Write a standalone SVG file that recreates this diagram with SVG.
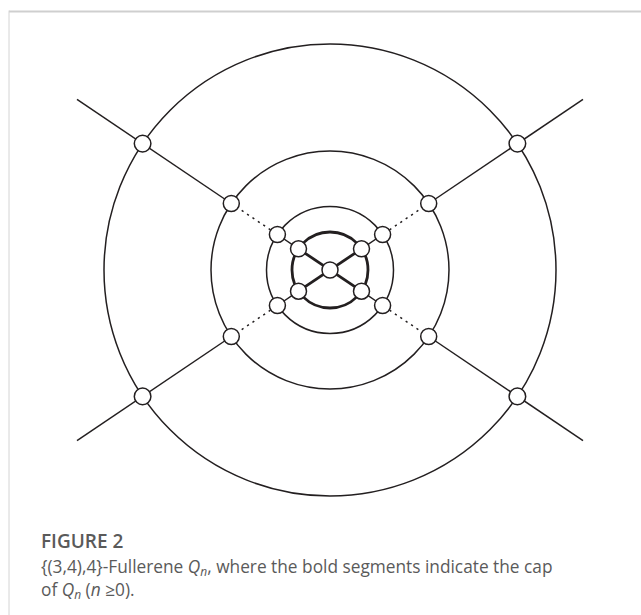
<svg xmlns="http://www.w3.org/2000/svg" width="641" height="615" viewBox="0 0 641 615">
<style>
.ln{stroke:#231f20;stroke-width:1.5;fill:none}
.bold{stroke:#231f20;stroke-width:2.8;fill:none}
.dot{stroke:#231f20;stroke-width:1.5;fill:none;stroke-dasharray:2.2 4.3}
.nd{fill:#fff;stroke:#231f20;stroke-width:1.5}
.cap{font-family:"Open Sans","Liberation Sans",sans-serif;fill:#5a5a5a}
</style>
<rect width="641" height="615" fill="#fff"/>
<g id="frame">
<line x1="9" y1="11.5" x2="641" y2="11.5" stroke="#cfcfcf" stroke-width="2"/>
<line x1="9" y1="10.5" x2="9" y2="615" stroke="#d4d4d4" stroke-width="1"/>
</g>
<g id="connectors">
<circle class="ln" cx="330" cy="270" r="226"/>
<circle class="ln" cx="330" cy="270" r="119"/>
<circle class="ln" cx="330" cy="270" r="63.5"/>
<circle class="bold" cx="330" cy="270" r="38"/>
<line class="bold" x1="298.5" y1="248.8" x2="361.5" y2="291.2"/>
<line class="bold" x1="361.5" y1="248.8" x2="298.5" y2="291.2"/>
<line class="ln" x1="298.5" y1="248.8" x2="277.4" y2="234.5"/>
<line class="ln" x1="361.5" y1="248.8" x2="382.6" y2="234.5"/>
<line class="ln" x1="298.5" y1="291.2" x2="277.4" y2="305.5"/>
<line class="ln" x1="361.5" y1="291.2" x2="382.6" y2="305.5"/>
<line class="dot" x1="270.5" y1="229.8" x2="238" y2="208"/>
<line class="dot" x1="389.5" y1="229.8" x2="422" y2="208"/>
<line class="dot" x1="270.5" y1="310.2" x2="238" y2="332"/>
<line class="dot" x1="389.5" y1="310.2" x2="422" y2="332"/>
<line class="ln" x1="231.3" y1="203.5" x2="77" y2="99.4"/>
<line class="ln" x1="428.7" y1="203.5" x2="583" y2="99.4"/>
<line class="ln" x1="231.3" y1="336.5" x2="77" y2="440.6"/>
<line class="ln" x1="428.7" y1="336.5" x2="583" y2="440.6"/>
</g>
<g id="n0"><circle class="nd" cx="330" cy="270" r="8"/></g>
<g id="n1"><circle class="nd" cx="298.5" cy="248.8" r="8"/></g>
<g id="n2"><circle class="nd" cx="361.5" cy="248.8" r="8"/></g>
<g id="n3"><circle class="nd" cx="298.5" cy="291.2" r="8"/></g>
<g id="n4"><circle class="nd" cx="361.5" cy="291.2" r="8"/></g>
<g id="n5"><circle class="nd" cx="277.4" cy="234.5" r="8"/></g>
<g id="n6"><circle class="nd" cx="382.6" cy="234.5" r="8"/></g>
<g id="n7"><circle class="nd" cx="277.4" cy="305.5" r="8"/></g>
<g id="n8"><circle class="nd" cx="382.6" cy="305.5" r="8"/></g>
<g id="n9"><circle class="nd" cx="231.3" cy="203.5" r="8"/></g>
<g id="n10"><circle class="nd" cx="428.7" cy="203.5" r="8"/></g>
<g id="n11"><circle class="nd" cx="231.3" cy="336.5" r="8"/></g>
<g id="n12"><circle class="nd" cx="428.7" cy="336.5" r="8"/></g>
<g id="n13"><circle class="nd" cx="142.6" cy="143.6" r="8.3"/></g>
<g id="n14"><circle class="nd" cx="517.4" cy="143.6" r="8.3"/></g>
<g id="n15"><circle class="nd" cx="142.6" cy="396.4" r="8.3"/></g>
<g id="n16"><circle class="nd" cx="517.4" cy="396.4" r="8.3"/></g>
<g id="caption">
<text class="cap" x="41" y="548" font-size="19" font-weight="600">FIGURE 2</text>
<text class="cap" x="41" y="573" font-size="17.3">{(3,4),4}-Fullerene <tspan font-style="italic">Q</tspan><tspan font-style="italic" font-size="12" dy="3">n</tspan><tspan dy="-3">, where the bold segments indicate the cap</tspan></text>
<text class="cap" x="41" y="596" font-size="17.3">of <tspan font-style="italic">Q</tspan><tspan font-style="italic" font-size="12" dy="3">n</tspan><tspan dy="-3"> (</tspan><tspan font-style="italic">n</tspan> ≥0).</text>
</g>
</svg>
